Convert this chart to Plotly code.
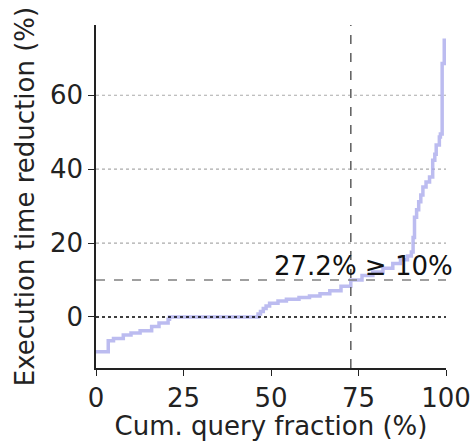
import plotly.graph_objects as go

# Cumulative query fraction (%) breakpoints and execution-time reduction (%)
cum_fraction = [0, 3.5, 5, 7.8, 10, 12.6, 15.9, 18, 20.6, 21, 46.3, 47, 47.8, 48.6, 49.6, 52, 54.4,
                58, 61, 64, 66.8, 70, 72.8, 76, 79.1, 82, 84.8, 87, 89, 90.1, 90.6, 91, 91.6, 92.2,
                92.8, 93.4, 94.3, 95.3, 96.2, 96.8, 97.2, 98.1, 98.4, 98.9, 99.5, 100]
reduction = [-9.4, -6.4, -5.8, -4.9, -4.3, -3.7, -2.6, -1.6, -0.6, 0, 0.8, 1.5, 2.3, 3.0, 3.7, 4.3,
             4.8, 5.3, 5.7, 6.3, 7.1, 8.3, 10, 11.2, 12.2, 13.2, 14.5, 15.5, 16.5, 17.6, 21.5, 27,
             29, 31.2, 33, 35.2, 36.5, 37.9, 42.4, 44, 46.5, 48.7, 49.5, 68.6, 74.9, 74.9]

x_ticks = [0, 25, 50, 75, 100]
y_ticks = [0, 20, 40, 60]
grid_levels = [20, 40, 60]
threshold = 10
threshold_x = 72.8
label_text = "27.2% ≥ 10%"

fig = go.Figure()
fig.add_trace(go.Scatter(x=cum_fraction, y=reduction, mode="lines", line_shape="hv",
                         line=dict(color="rgba(165,165,235,0.75)", width=3.5),
                         showlegend=False, hoverinfo="skip"))

for g in grid_levels:
    fig.add_shape(type="line", xref="paper", x0=0, x1=1, yref="y", y0=g, y1=g,
                  line=dict(color="#aaaaaa", width=1.2, dash="dot"), layer="below")
fig.add_shape(type="line", xref="paper", x0=0, x1=1, yref="y", y0=0, y1=0,
              line=dict(color="black", width=1.5, dash="dot"))
fig.add_shape(type="line", xref="paper", x0=0, x1=1, yref="y", y0=threshold, y1=threshold,
              line=dict(color="#808080", width=1.6, dash="dash"))
fig.add_shape(type="line", xref="x", x0=threshold_x, x1=threshold_x, yref="paper", y0=0, y1=1,
              line=dict(color="#666666", width=1.6, dash="dash"))

fig.add_annotation(x=100, y=threshold, xref="x", yref="y", text=label_text, showarrow=False,
                   xanchor="right", yanchor="bottom", xshift=9, yshift=-3,
                   font=dict(family="DejaVu Sans", size=26, color="#111111"))

axis_font = dict(family="DejaVu Sans", size=26, color="#222222")
fig.update_layout(
    width=474, height=441, margin=dict(l=96, r=28, t=25, b=73),
    plot_bgcolor="white", paper_bgcolor="white",
    xaxis=dict(range=[0, 100], tickvals=x_ticks, showgrid=False, zeroline=False, automargin=False,
               showline=True, linecolor="#222222", linewidth=1.5, ticks="outside",
               ticklen=6, tickwidth=1.3, tickcolor="#222222", tickfont=axis_font,
               title=dict(text="Cum. query fraction (%)", font=axis_font, standoff=2)),
    yaxis=dict(range=[-13.8, 79], tickvals=y_ticks, showgrid=False, zeroline=False, automargin=False,
               showline=True, linecolor="#222222", linewidth=1.5, ticks="outside",
               ticklen=6, tickwidth=1.3, tickcolor="#222222", tickfont=axis_font,
               title=dict(text="Execution time reduction (%)", font=axis_font, standoff=8)),
)
fig.write_html("out.html")
